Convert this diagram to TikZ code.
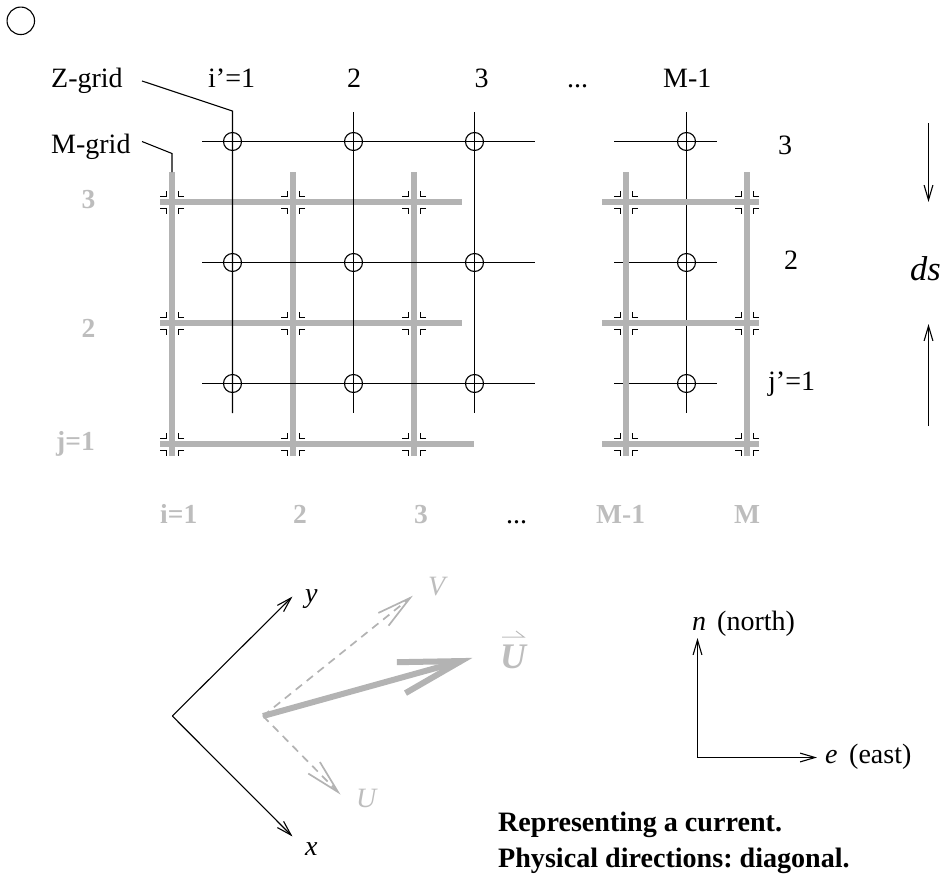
\documentclass[tikz,border=0pt]{standalone}
\usepackage{fontspec}
\setmainfont{Liberation Serif}
\usetikzlibrary{calc}
\definecolor{mgray}{HTML}{B3B3B3}
\definecolor{lgray}{HTML}{BDBDBD}
\tikzset{
  x=1pt,y=-1pt,
  thin line/.style={draw=black,line width=1.1pt},
  mline/.style={draw=mgray,line width=6pt},
  tickmark/.style={draw=black,line width=1pt},
  zdot/.style={circle,draw=black,line width=1.1pt,minimum size=18pt,inner sep=0pt},
  lab/.style={anchor=base west,inner sep=0pt,font=\fontsize{28}{28}\selectfont},
  glab/.style={anchor=base west,inner sep=0pt,text=lgray,font=\fontsize{27.5}{28}\selectfont\bfseries},
  dashline/.style={draw=mgray,line width=1.7pt,dash pattern=on 8pt off 6pt},
  headline/.style={draw=mgray,line width=1.7pt,line join=miter},
}
% open arrow head: tip, tail, barb length, half angle, style
\newcommand{\barbhead}[5]{%
  \draw[#5] ($(#1)!#3!#4:(#2)$) -- (#1) -- ($(#1)!#3!-#4:(#2)$);}
\begin{document}
\frenchspacing
\begin{tikzpicture}
\useasboundingbox (0,0) rectangle (943,876);
% coordinates of the grids
\foreach \n/\x in {1/232.5,2/353.5,3/474.5,4/686.5}{
  \coordinate (zt\n) at (\x,112);
  \coordinate (zb\n) at (\x,413);
}
\foreach \n/\y in {1/383.5,2/262.5,3/141.5}{
  \coordinate (zl\n) at (202,\y);
  \coordinate (zm\n) at (535,\y);
  \coordinate (zn\n) at (614,\y);
  \coordinate (zr\n) at (716.5,\y);
}
\foreach \n/\x in {1/172,2/293,3/414,4/626,5/747}{
  \coordinate (mt\n) at (\x,172);
  \coordinate (mb\n) at (\x,456);
}
\foreach \n/\y/\e in {1/444/474,2/323/462,3/202/462}{
  \coordinate (ml\n) at (160,\y);
  \coordinate (mm\n) at (\e,\y);
  \coordinate (mn\n) at (602,\y);
  \coordinate (mr\n) at (759,\y);
}
% right part: thin below, thick above
\draw[thin line] (zt4) -- (zb4);
\foreach \j in {1,2,3}{ \draw[thin line] (zn\j) -- (zr\j); }
\foreach \i in {4,5}{ \draw[mline] (mt\i) -- (mb\i); }
\foreach \j in {1,2,3}{ \draw[mline] (mn\j) -- (mr\j); }
% left part: thick below, thin above
\foreach \i in {1,2,3}{ \draw[mline] (mt\i) -- (mb\i); }
\foreach \j in {1,2,3}{ \draw[mline] (ml\j) -- (mm\j); }
\foreach \i in {2,3}{ \draw[thin line] (zt\i) -- (zb\i); }
\foreach \j in {1,2,3}{ \draw[thin line] (zl\j) -- (zm\j); }
% corner marks
\foreach \x in {172,293,414,626,747}{
  \foreach \y in {202,323,444}{
    \begin{scope}[shift={(\x,\y)}]
      \draw[tickmark] (-12,-6) -- (-5.5,-6) -- (-5.5,-11.5);
      \draw[tickmark] (12,-6) -- (6,-6) -- (6,-11.5);
      \draw[tickmark] (-12,6) -- (-5.5,6) -- (-5.5,11.5);
      \draw[tickmark] (12,6) -- (6,6) -- (6,11.5);
    \end{scope}
  }
}
% Z points
\foreach \n/\x in {1/232.5,2/353.5,3/474.5,4/686.5}{
  \foreach \j/\y in {1/383.5,2/262.5,3/141.5}{
    \node[zdot] (z\n-\j) at (\x,\y) {};
  }
}
% lone circle
\node[circle,draw=black,line width=1.1pt,minimum size=27.5pt,inner sep=0pt] (lone) at (20.8,20.8) {};
% labels
\node[lab] (zgrid) at (51,87) {Z-grid};
\node[lab] (mgrid) at (51,153) {M-grid};
\node[lab] (ip1) at (208,87) {i’=1};
\node[lab] (ip2) at (347,87) {2};
\node[lab] (ip3) at (474.5,87) {3};
\node[lab] (ipd) at (567,87) {...};
\node[lab] (ipm) at (663,87) {M-1};
\node[lab] (jp3) at (778,154) {3};
\node[lab] (jp2) at (784,269) {2};
\node[lab] (jp1) at (768,390) {j’=1};
\node[glab] (j3) at (81.5,208) {3};
\node[glab] (j2) at (81.5,337) {2};
\node[glab] (j1) at (56,450) {j=1};
\node[glab] (i1) at (160,523) {i=1};
\node[glab] (i2) at (293,523) {2};
\node[glab] (i3) at (414,523) {3};
\node[lab] (id) at (506,523) {...};
\node[glab] (im1) at (596,523) {M-1};
\node[glab] (im) at (734,523) {M};
% leaders
\coordinate (zs) at (142,81);
\coordinate (zk) at (232.5,111);
\coordinate (ms) at (142,141.5);
\coordinate (mk) at (172,153.5);
\draw[thin line,line join=miter] (zs) -- (zk) -- (zb1);
\draw[thin line,line join=miter] (ms) -- (mk) -- (mt1);
% ds
\coordinate (dsa) at (928.5,123);
\coordinate (dsb) at (928.5,200);
\coordinate (dsc) at (928.5,426);
\coordinate (dsd) at (928.5,326);
\draw[thin line] (dsa) -- (dsb);
\barbhead{dsb}{dsa}{15.5pt}{16.5}{thin line}
\draw[thin line] (dsc) -- (dsd);
\barbhead{dsd}{dsc}{15.5pt}{16.5}{thin line}
\node[lab,font=\fontsize{34.5}{35}\selectfont\itshape] (ds) at (910,280) {ds};
% xy axes
\coordinate (o) at (172.3,716);
\coordinate (ytip) at (291,598);
\coordinate (xtip) at (291,835);
\draw[thin line] (o) -- (ytip);
\barbhead{ytip}{o}{15.5pt}{16.5}{thin line}
\draw[thin line] (o) -- (xtip);
\barbhead{xtip}{o}{15.5pt}{16.5}{thin line}
\node[lab,font=\fontsize{28}{28}\selectfont\itshape] (ylab) at (305,602) {y};
\node[lab,font=\fontsize{28}{28}\selectfont\itshape] (xlab) at (305,855) {x};
% current
\coordinate (c) at (263,716);
\coordinate (vtip) at (410,598);
\coordinate (utip) at (338,792);
\coordinate (ctip) at (472,658);
\coordinate (cv) at ($(ctip)!11.5pt!(c)$);
\draw[dashline] (c) -- (vtip);
\barbhead{vtip}{c}{35pt}{13.5}{headline}
\draw[dashline] (c) -- (utip);
\barbhead{utip}{c}{35pt}{13.5}{headline}
\draw[mline] (c) -- (cv);
\barbhead{cv}{c}{64pt}{14.5}{mline,line join=miter}
\node[lab,text=lgray,font=\fontsize{28}{28}\selectfont\itshape] (vlab) at (428,595) {V};
\node[lab,text=lgray,font=\fontsize{28}{28}\selectfont\itshape] (ulab) at (356,807) {U};
\node[lab,text=lgray,font=\fontsize{36}{36}\selectfont\bfseries\itshape] (ubig) at (500,668.5) {U};
\coordinate (ua) at (502,637);
\coordinate (ub) at (524,637);
\coordinate (uc) at (516,631);
\draw[draw=lgray,line width=1pt,line join=miter] (ua) -- (ub) -- (uc);
% compass
\coordinate (ne) at (697.5,757.5);
\coordinate (ntip) at (697.5,640);
\coordinate (etip) at (815,757.5);
\draw[thin line] (ne) -- (ntip);
\barbhead{ntip}{ne}{15.5pt}{16.5}{thin line}
\draw[thin line] (ne) -- (etip);
\barbhead{etip}{ne}{15.5pt}{16.5}{thin line}
\node[lab] (nlab) at (692,630) {\textit{n}};
\node[lab] (nname) at (717,630) {(north)};
\node[lab] (elab) at (825,763) {\textit{e}};
\node[lab] (ename) at (849,763) {(east)};
% caption
\node[lab,font=\fontsize{28.1}{28}\selectfont\bfseries] (cap1) at (498,831) {Representing a current.};
\node[lab,font=\fontsize{28.1}{28}\selectfont\bfseries] (cap2) at (498,867) {Physical directions: diagonal.};
\end{tikzpicture}
\end{document}
